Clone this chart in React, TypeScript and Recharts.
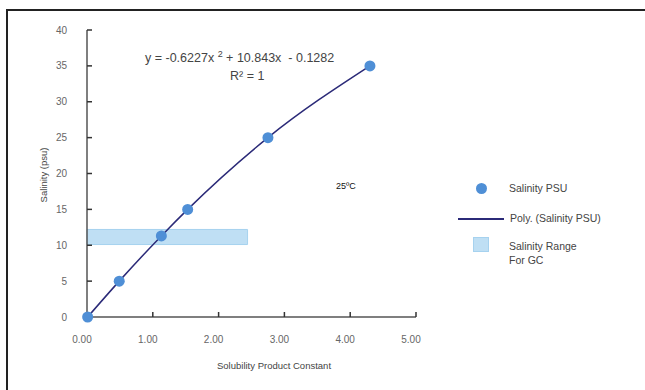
import {
  ComposedChart,
  Line,
  Scatter,
  XAxis,
  YAxis,
  ReferenceArea,
} from "recharts";

// Solubility product constant (x) vs salinity (y)
const solubility = [0.01, 0.49, 1.13, 1.53, 2.75, 4.3];
const salinity = [0, 5, 11.3, 15, 25, 35];

const xTicks = [0, 1, 2, 3, 4, 5];
const yTicks = [0, 5, 10, 15, 20, 25, 30, 35, 40];

// salinity range for GC band
const rangeX = [0, 2.44];
const rangeY = [10.1, 12.2];

const points = solubility.map((x, i) => ({ x, y: salinity[i] }));

const FONT = "'Liberation Sans', Arial, sans-serif";
const DOT = "#4f8fd6";
const TREND = "#2b2a78";
const AXIS = "#555";

const Dot = (props: any) => (
  <circle cx={props.cx} cy={props.cy} r={5.5} fill={DOT} />
);

export default function App() {
  return (
    <div
      style={{
        position: "absolute",
        left: 0,
        top: 0,
        width: 645,
        height: 390,
        overflow: "hidden",
        background: "#fff",
        fontFamily: FONT,
      }}
    >
      {/* outer frame */}
      <div
        style={{
          position: "absolute",
          left: 6,
          top: 9,
          width: 700,
          height: 500,
          border: "2px solid #222",
        }}
      />

      <div style={{ position: "absolute", left: 0, top: 0 }}>
        <ComposedChart
          width={645}
          height={390}
          data={points}
          margin={{ top: 30, right: 229, bottom: 43, left: 47 }}
        >
          <XAxis
            dataKey="x"
            type="number"
            domain={[0, 5]}
            ticks={xTicks}
            tickFormatter={(v: number) => v.toFixed(2)}
            height={30}
            tickSize={-5}
            tickMargin={24}
            axisLine={{ stroke: AXIS, strokeWidth: 1.5 }}
            tickLine={{ stroke: "#333", strokeWidth: 1.5 }}
            tick={{ fill: "#666", fontSize: 10, fontFamily: FONT, dx: -5 }}
          />
          <YAxis
            dataKey="y"
            type="number"
            domain={[0, 40]}
            ticks={yTicks}
            width={40}
            tickSize={-5}
            tickMargin={25}
            axisLine={{ stroke: AXIS, strokeWidth: 1.5 }}
            tickLine={{ stroke: "#333", strokeWidth: 1.5 }}
            tick={{ fill: "#666", fontSize: 10, fontFamily: FONT }}
          />
          <ReferenceArea
            x1={rangeX[0]}
            x2={rangeX[1]}
            y1={rangeY[0]}
            y2={rangeY[1]}
            fill="#bfdff4"
            fillOpacity={1}
            stroke="#a6d2ef"
            strokeWidth={1}
            ifOverflow="visible"
          />
          <Line
            dataKey="y"
            type="monotone"
            stroke={TREND}
            strokeWidth={1.5}
            dot={false}
            isAnimationActive={false}
          />
          <Scatter
            data={points}
            dataKey="y"
            fill={DOT}
            shape={Dot}
            isAnimationActive={false}
          />
        </ComposedChart>
      </div>

      {/* trendline equation */}
      <div
        style={{
          position: "absolute",
          left: 145,
          top: 49,
          fontSize: 12.5,
          color: "#444",
          whiteSpace: "pre",
        }}
      >
        y = -0.6227x <sup style={{ fontSize: 9, verticalAlign: 5 }}>2</sup> +
        10.843x{"  "}- 0.1282
      </div>
      <div
        style={{
          position: "absolute",
          left: 230,
          top: 69,
          fontSize: 12.5,
          color: "#444",
        }}
      >
        R² = 1
      </div>

      <div
        style={{
          position: "absolute",
          left: 336,
          top: 181,
          fontSize: 9,
          color: "#111",
        }}
      >
        25ºC
      </div>

      {/* axis titles */}
      <div
        style={{
          position: "absolute",
          left: 274,
          top: 365,
          transform: "translate(-50%, -50%)",
          fontSize: 9.5,
          color: "#444",
          whiteSpace: "nowrap",
        }}
      >
        Solubility Product Constant
      </div>
      <div
        style={{
          position: "absolute",
          left: 43,
          top: 175,
          transform: "translate(-50%, -50%) rotate(-90deg)",
          fontSize: 9.5,
          color: "#444",
          whiteSpace: "nowrap",
        }}
      >
        Salinity (psu)
      </div>

      {/* legend */}
      <div style={{ position: "absolute", left: 0, top: 0, fontSize: 10.5, color: "#444" }}>
        <div
          style={{
            position: "absolute",
            left: 476,
            top: 183,
            width: 11,
            height: 11,
            borderRadius: "50%",
            background: DOT,
          }}
        />
        <div style={{ position: "absolute", left: 509, top: 182, whiteSpace: "nowrap" }}>
          Salinity PSU
        </div>
        <div
          style={{
            position: "absolute",
            left: 458,
            top: 218,
            width: 46,
            height: 2,
            background: TREND,
          }}
        />
        <div style={{ position: "absolute", left: 510, top: 212, whiteSpace: "nowrap" }}>
          Poly. (Salinity PSU)
        </div>
        <div
          style={{
            position: "absolute",
            left: 473,
            top: 237,
            width: 14,
            height: 13,
            background: "#bfdff4",
            border: "1px solid #a6d2ef",
          }}
        />
        <div style={{ position: "absolute", left: 509, top: 239, lineHeight: "14px", whiteSpace: "nowrap" }}>
          Salinity Range
          <br />
          For GC
        </div>
      </div>
    </div>
  );
}
